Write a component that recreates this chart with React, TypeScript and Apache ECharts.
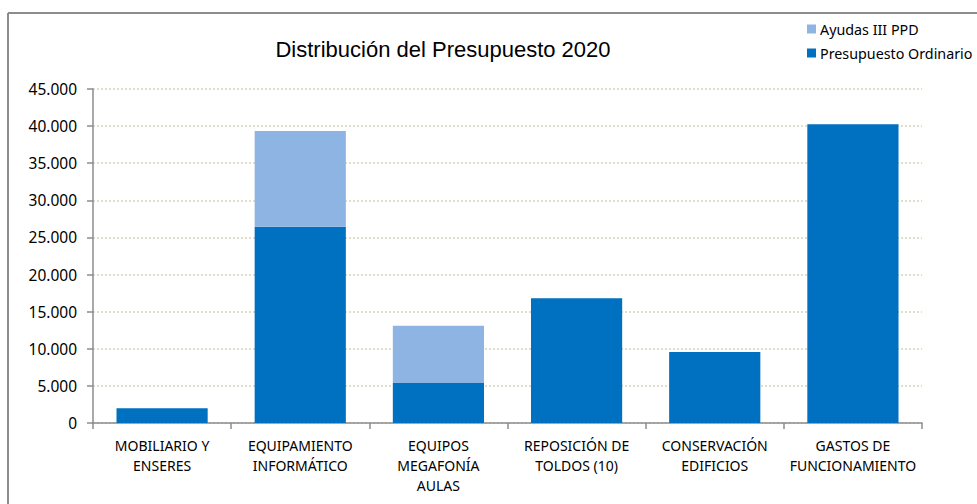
import React, { useEffect, useRef } from "react";
import * as echarts from "echarts";

const categories = [
  "MOBILIARIO Y\nENSERES",
  "EQUIPAMIENTO\nINFORMÁTICO",
  "EQUIPOS\nMEGAFONÍA\nAULAS",
  "REPOSICIÓN DE\nTOLDOS (10)",
  "CONSERVACIÓN\nEDIFICIOS",
  "GASTOS DE\nFUNCIONAMIENTO",
];
const presupuestoOrdinario = [2000, 26450, 5400, 16800, 9550, 40250];
const ayudasIIIPPD = [0, 12900, 7700, 0, 0, 0];
const yTicks = { min: 0, max: 45000, interval: 5000 };

const fmt = (v: number) => String(v).replace(/\B(?=(\d{3})+(?!\d))/g, ".");

export default function App() {
  const ref = useRef<HTMLDivElement>(null);
  useEffect(() => {
    document.body.style.margin = "0";
    const chart = echarts.init(ref.current!, undefined, { renderer: "svg" });
    const labelFont = "Noto Sans";
    chart.setOption({
      animation: false,
      backgroundColor: "#ffffff",
      title: {
        text: "Distribución del Presupuesto 2020",
        left: 438,
        textAlign: "center",
        top: 33,
        textStyle: { fontFamily: "Liberation Sans", fontSize: 22, fontWeight: "normal", color: "#000" },
      },
      legend: {
        orient: "vertical",
        left: 802,
        top: 17,
        itemWidth: 9,
        itemHeight: 9,
        itemGap: 10,
        icon: "rect",
        data: ["Ayudas III PPD", "Presupuesto Ordinario"],
        textStyle: { fontFamily: labelFont, fontSize: 14.3, color: "#000", padding: [0, 0, 0, -1] },
      },
      graphic: [
        { type: "line", shape: { x1: 8, y1: 13, x2: 977, y2: 13 }, style: { stroke: "#8c8c8c", lineWidth: 2 } },
        { type: "line", shape: { x1: 8, y1: 13, x2: 8, y2: 504 }, style: { stroke: "#8c8c8c", lineWidth: 2 } },
      ],
      grid: { left: 93, right: 55, top: 89, bottom: 81, containLabel: false },
      xAxis: {
        type: "category",
        data: categories,
        axisLine: { show: true, lineStyle: { color: "#8c8c8c", width: 1.5 } },
        axisTick: { show: true, alignWithLabel: false, length: 6, lineStyle: { color: "#8c8c8c", width: 1.5 } },
        axisLabel: { interval: 0, fontFamily: labelFont, fontSize: 14, color: "#000", lineHeight: 20, margin: 12 },
      },
      yAxis: {
        type: "value",
        min: yTicks.min,
        max: yTicks.max,
        interval: yTicks.interval,
        axisLine: { show: true, lineStyle: { color: "#8c8c8c", width: 1.5 } },
        axisTick: { show: true, length: 6, lineStyle: { color: "#8c8c8c", width: 1.5 } },
        axisLabel: { formatter: (v: number) => fmt(v), fontFamily: labelFont, fontSize: 15.5, color: "#000", margin: 16 },
        splitLine: { show: true, lineStyle: { type: [2, 2], color: "#d8d2b4", width: 1.5 } },
      },
      series: [
        {
          name: "Presupuesto Ordinario",
          type: "bar",
          stack: "total",
          data: presupuestoOrdinario,
          barCategoryGap: "34%",
          itemStyle: { color: "#0070C0" },
        },
        {
          name: "Ayudas III PPD",
          type: "bar",
          stack: "total",
          data: ayudasIIIPPD.map((v) => (v === 0 ? null : v)),
          itemStyle: { color: "#8EB4E3" },
        },
      ],
    });
    return () => chart.dispose();
  }, []);
  return <div ref={ref} style={{ width: 977, height: 504 }} />;
}
